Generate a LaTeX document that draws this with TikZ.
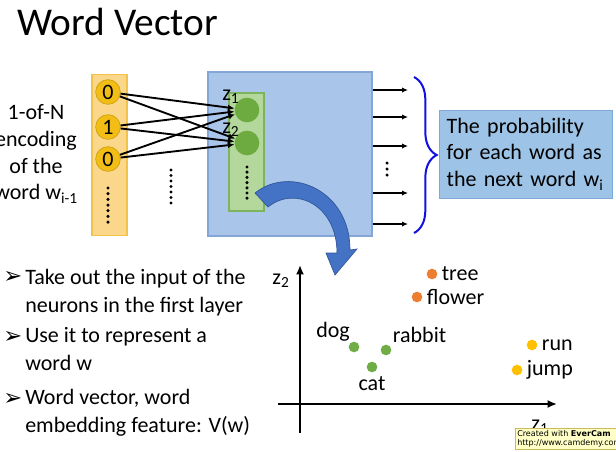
\documentclass[tikz,border=0pt]{standalone}
\usepackage{fontspec}
\setmainfont{Carlito}
\newfontfamily\dingfont{DejaVu Sans}
\usetikzlibrary{arrows.meta,positioning,decorations.pathreplacing}
\definecolor{ink}{HTML}{000000}
\definecolor{inbar}{HTML}{FBD78B}
\definecolor{inbaredge}{HTML}{F3C24B}
\definecolor{inunit}{HTML}{F2BD14}
\definecolor{layer}{HTML}{A9C5E9}
\definecolor{layeredge}{HTML}{83A6D6}
\definecolor{zbar}{HTML}{B4D89C}
\definecolor{zbaredge}{HTML}{7FB45E}
\definecolor{zunit}{HTML}{6DAA3F}
\definecolor{probfill}{HTML}{9DC3E6}
\definecolor{probedge}{HTML}{7FA8D8}
\definecolor{bracecol}{HTML}{1010E0}
\definecolor{bend}{HTML}{4472C4}
\definecolor{bendedge}{HTML}{2F5597}
\definecolor{dotorange}{HTML}{ED7D31}
\definecolor{dotgreen}{HTML}{70AD47}
\definecolor{dotgold}{HTML}{FFC000}
\definecolor{camfill}{HTML}{FFFFC6}
\definecolor{camedge}{HTML}{CDBB5A}
\tikzset{
  barbox/.style={inner sep=0pt,line width=0.8pt},
  inneuron/.style={circle,fill=inunit,draw=inunit!85!black,line width=0.5pt,
    minimum size=18.5pt,inner sep=0pt,font=\fontsize{16.5}{20}\selectfont},
  zneuron/.style={circle,fill=zunit,minimum size=18.5pt,inner sep=0pt},
  wire/.style={-{Latex[length=5pt,width=4.5pt]},line width=1.4pt,draw=ink},
  outwire/.style={-{Latex[length=4.5pt,width=4pt]},line width=1.3pt,draw=ink},
  axisline/.style={-{Latex[length=7pt,width=6pt]},line width=1.9pt,draw=ink},
  wordpt/.style={circle,inner sep=0pt,minimum size=8pt},
  wordlabel/.style={inner sep=0pt,font=\fontsize{16.5}{20}\selectfont},
  slidetext/.style={inner sep=0pt,font=\fontsize{16.5}{21}\selectfont,align=left},
  bulletmark/.style={inner sep=0pt,font={\dingfont\fontsize{17}{19}\selectfont}}
}

\begin{document}
\begin{tikzpicture}[x=0.75pt,y=-0.75pt]
\useasboundingbox (0,0) rectangle (616,451);
\node[anchor=base west,inner sep=0pt,font=\fontsize{29.5}{35}\selectfont] (title) at (17,35) {Word Vector};
\node[align=center,inner sep=0pt,font=\fontsize{16.5}{20}\selectfont] (onehot) at (36,154) {1-of-N\\encoding\\of the\\word w\textsubscript{i-1}};

% input layer
\node[barbox,fill=inbar,draw=inbaredge,minimum width=26.25pt,minimum height=120.75pt] (inbar) at (109.5,155) {};
\node[inneuron] (x1) at (108,92) {0};
\node[inneuron] (x2) at (108,127) {1};
\node[inneuron] (x3) at (108,159) {0};
\foreach \k in {0,...,6} \fill (108,188+5.67*\k) circle (1.3pt);
\foreach \k in {0,...,6} \fill (171,170+5.5*\k) circle (1.3pt);

% hidden layer
\node[barbox,fill=layer,draw=layeredge,minimum width=123pt,minimum height=123pt] (hidden) at (290,154) {};
\node[barbox,fill=zbar,draw=zbaredge,minimum width=26.25pt,minimum height=88.5pt] (zbar) at (246.5,152) {};
\node[zneuron] (z1) at (247,110) {};
\node[zneuron] (z2) at (247,143) {};
\node[wordlabel,anchor=base west] (z1lab) at (222,100) {z\textsubscript{1}};
\node[wordlabel,anchor=base west] (z2lab) at (222,133) {z\textsubscript{2}};
\foreach \k in {0,...,6} \fill (247,167+5.2*\k) circle (1.3pt);
\foreach \i in {1,2,3}
  \foreach \j in {1,2}
    \draw[wire] (x\i) -- (z\j);

% outputs
\foreach \y [count=\n] in {90,117,146,193,224} {
  \coordinate (out\n) at (408,\y);
  \draw[outwire] (hidden.east |- out\n) -- (out\n);
}
\foreach \k in {0,1,2} \fill (387,163+6*\k) circle (1.3pt);
\draw[bracecol,line width=1.5pt,decorate,decoration={brace,amplitude=17pt}] (414,77) -- (414,233);
\node[slidetext,fill=probfill,draw=probedge,line width=0.6pt,text width=119pt,inner xsep=5.25pt,
  minimum height=66pt,font=\fontsize{16.5}{20}\selectfont] (prob) at (526,154)
  {The probability\\for each word as\\the next word w\textsubscript{i}};

% bent arrow
\filldraw[fill=bend,draw=bendedge,line width=0.5pt] (255,193) .. controls (290,165) and (350,190) .. (350,250)
  -- (357,249) -- (335,275) -- (326,253) -- (337,253) .. controls (337,205) and (295,185) .. (268,207) -- cycle;

% bullets
\node[bulletmark,anchor=base west] (b1) at (3,283) {➢};
\node[slidetext,anchor=base west] (t1) at (25,312) {Take out the input of the\\neurons in the first layer};
\node[bulletmark,anchor=base west] (b2) at (3,343) {➢};
\node[slidetext,anchor=base west] (t2) at (25,370) {Use it to represent a\\word w};
\node[bulletmark,anchor=base west] (b3) at (3,405) {➢};
\node[slidetext,anchor=base west] (t3) at (25,432) {Word vector, word\\embedding feature: V(w)};

% embedding plane
\coordinate (ybot) at (300,433);
\coordinate (ytip) at (300,265);
\coordinate (xleft) at (278,404);
\coordinate (xtip) at (557,404);
\draw[axisline] (ybot) -- (ytip);
\draw[axisline] (xleft) -- (xtip);
\node[wordlabel] (zaxis2) at (281,281) {z\textsubscript{2}};
\node[wordlabel] (zaxis1) at (540,427) {z\textsubscript{1}};

\node[wordpt,fill=dotorange] (tree) at (432,274) {};
\node[wordlabel,right=3pt of tree] (treelab) {tree};
\node[wordpt,fill=dotorange] (flower) at (417,297) {};
\node[wordlabel,right=3pt of flower] (flowerlab) {flower};
\node[wordpt,fill=dotgreen] (dog) at (354,347) {};
\node[wordlabel,above left=1pt and 0pt of dog] (doglab) {dog};
\node[wordpt,fill=dotgreen] (rabbit) at (386,350) {};
\node[wordlabel,above right=2pt and 2pt of rabbit] (rabbitlab) {rabbit};
\node[wordpt,fill=dotgreen] (cat) at (372,367) {};
\node[wordlabel,below=3pt of cat] (catlab) {cat};
\node[wordpt,fill=dotgold] (run) at (532,345) {};
\node[wordlabel,right=3pt of run] (runlab) {run};
\node[wordpt,fill=dotgold] (jump) at (517,370) {};
\node[wordlabel,right=3pt of jump] (jumplab) {jump};

\node[draw=camedge,fill=camfill,inner sep=1.5pt,anchor=north west,align=left,
  font={\dingfont\fontsize{6}{7}\selectfont}] (evercam) at (515,428)
  {Created with \textbf{EverCam}\\http://www.camdemy.com};
\end{tikzpicture}
\end{document}
